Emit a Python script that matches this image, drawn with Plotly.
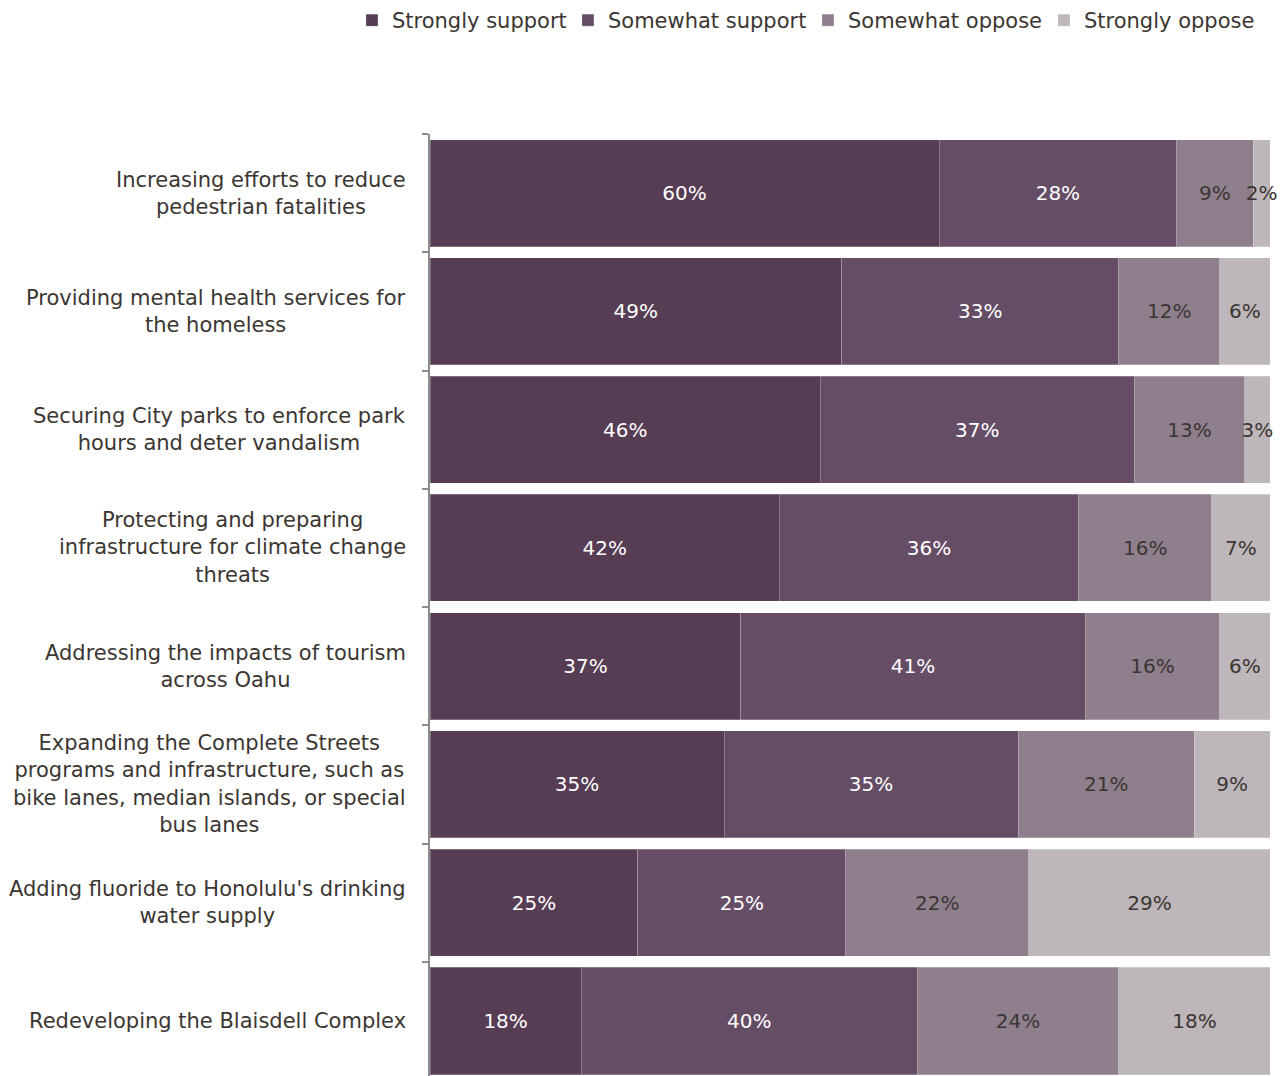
import plotly.graph_objects as go

# Survey items (top to bottom)
categories = [
    "Increasing efforts to reduce<br>pedestrian fatalities",
    "Providing mental health services for<br>the homeless",
    "Securing City parks to enforce park<br>hours and deter vandalism",
    "Protecting and preparing<br>infrastructure for climate change<br>threats",
    "Addressing the impacts of tourism<br>across Oahu",
    "Expanding the Complete Streets<br>programs and infrastructure, such as<br>bike lanes, median islands, or special<br>bus lanes",
    "Adding fluoride to Honolulu's drinking<br>water supply",
    "Redeveloping the Blaisdell Complex",
]

series_names = ["Strongly support", "Somewhat support", "Somewhat oppose", "Strongly oppose"]
strongly_support = [60, 49, 46, 42, 37, 35, 25, 18]
somewhat_support = [28, 33, 37, 36, 41, 35, 25, 40]
somewhat_oppose = [9, 12, 13, 16, 16, 21, 22, 24]
strongly_oppose = [2, 6, 3, 7, 6, 9, 29, 18]

series_values = [strongly_support, somewhat_support, somewhat_oppose, strongly_oppose]
bar_colors = ["#563d53", "#664d66", "#8f7f8d", "#bdb6bb"]
label_colors = ["#ffffff", "#ffffff", "#3b3632", "#3b3632"]
legend_entry_widths = [171, 195, 191, 171]

FONT = "DejaVu Sans, sans-serif"
TEXT_DARK = "#3b3632"

fig = go.Figure()
for name, vals, col, tcol, lw in zip(series_names, series_values, bar_colors,
                                     label_colors, legend_entry_widths):
    fig.add_trace(go.Bar(
        name=name,
        y=categories,
        x=vals,
        orientation="h",
        marker=dict(color=col, line=dict(color="rgba(255,255,255,0.25)", width=1)),
        text=[f"{v}%" for v in vals],
        texttemplate="%{text}",
        textposition="inside",
        insidetextanchor="middle",
        textangle=0,
        textfont=dict(family=FONT, size=20, color=tcol),
        cliponaxis=False,
        legendwidth=lw,
        hoverinfo="skip",
    ))

# Category labels: centred multi-line blocks right-aligned against the axis
for cat in categories:
    fig.add_annotation(
        x=0, xref="paper", y=cat, yref="y",
        text=cat, showarrow=False,
        xanchor="right", yanchor="middle", align="center",
        xshift=-22,
        font=dict(family=FONT, size=21, color=TEXT_DARK),
    )

fig.update_layout(
    width=1286, height=1076,
    margin=dict(l=430, r=16, t=134, b=0),
    barmode="stack",
    barnorm="percent",
    bargap=0.095,
    paper_bgcolor="white",
    plot_bgcolor="white",
    font=dict(family=FONT, color=TEXT_DARK),
    uniformtext=dict(minsize=20, mode="show"),
    showlegend=True,
    legend=dict(
        orientation="h",
        xref="paper", yref="paper",
        x=-0.0929, xanchor="left",
        y=1.121, yanchor="middle",
        font=dict(family=FONT, size=21, color=TEXT_DARK),
        traceorder="normal",
        itemwidth=30,
        bgcolor="rgba(0,0,0,0)",
    ),
    xaxis=dict(range=[0, 100], visible=False, showgrid=False, zeroline=False),
    yaxis=dict(
        type="category",
        categoryorder="array",
        categoryarray=categories,
        range=[7.465, -0.5],
        showticklabels=False,
        showgrid=False,
        zeroline=False,
        showline=True,
        linecolor="#8c8c8c",
        linewidth=2,
        ticks="outside",
        tickson="boundaries",
        ticklen=6,
        tickwidth=1.5,
        tickcolor="#8c8c8c",
    ),
)

fig.write_html("out.html")
